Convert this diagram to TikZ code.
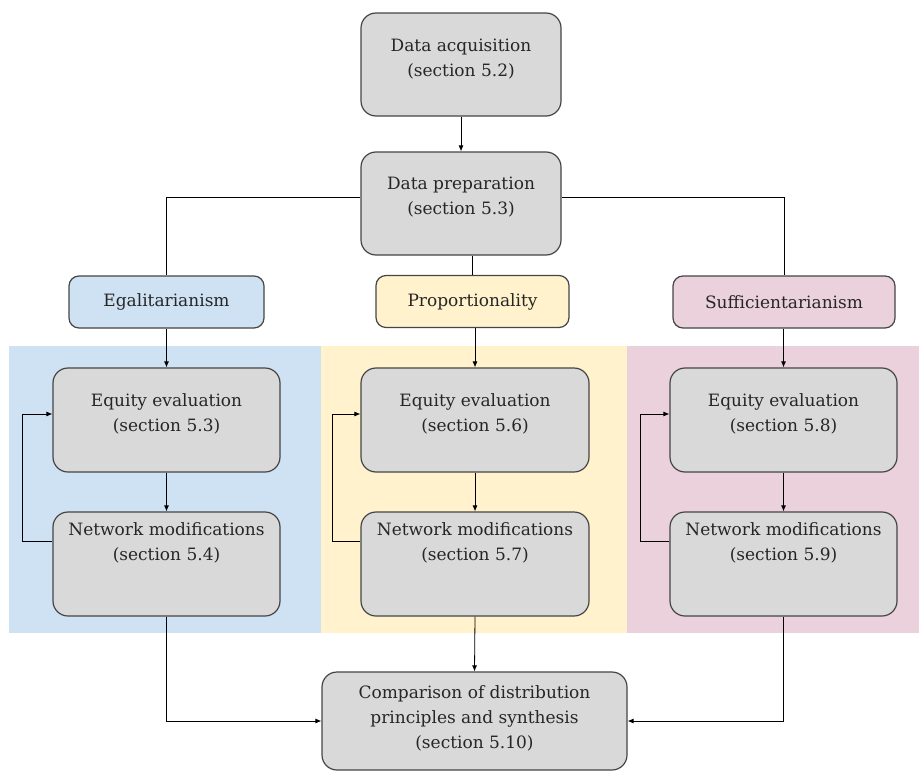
\documentclass[tikz,border=0pt]{standalone}
\usepackage{fontspec}
\setmainfont{DejaVu Serif}
\usetikzlibrary{arrows.meta}
\definecolor{gfill}{HTML}{D9D9D9}
\definecolor{gdraw}{HTML}{454545}
\definecolor{bluebg}{HTML}{CFE2F3}
\definecolor{yelbg}{HTML}{FFF2CC}
\definecolor{pinkbg}{HTML}{EAD1DC}
\tikzset{
  box/.style={draw=gdraw, line width=1.2pt, rounded corners=15pt, fill=gfill,
    align=center, inner sep=0pt, font=\fontsize{17}{25}\selectfont, text=black!85},
  catbox/.style={draw=gdraw, line width=1.2pt, rounded corners=10pt,
    align=center, inner sep=0pt, font=\fontsize{17}{25}\selectfont, text=black!85,
    minimum height=52pt},
  lbl/.style={align=center, font=\fontsize{17}{25}\selectfont, text=black!85},
  conn/.style={draw=black, line width=0.8pt},
  arr/.style={conn, -{Latex[length=6pt,width=5pt]}},
}
\begin{document}
\begin{tikzpicture}[x=1pt, y=-1pt]
\useasboundingbox (0,0) rectangle (919,771);
% backgrounds
\fill[bluebg] (9,346) rectangle (321,633);
\fill[yelbg] (321,346) rectangle (627,633);
\fill[pinkbg] (627,346) rectangle (919,633);
% top boxes
\node[box, minimum width=200pt, minimum height=103pt,
  label={[lbl, yshift=5pt]center:Data acquisition\\(section 5.2)}] (acq) at (461,64.5) {};
\node[box, minimum width=200pt, minimum height=103pt,
  label={[lbl, yshift=6pt]center:Data preparation\\(section 5.3)}] (prep) at (461,203.5) {};
% category boxes
\node[catbox, fill=bluebg, minimum width=195pt] (egal) at (166.5,302) {Egalitarianism};
\node[catbox, fill=yelbg, minimum width=193pt] (prop) at (472.5,301.5) {Proportionality};
\node[catbox, fill=pinkbg, minimum width=222pt] (suff) at (784,302) {Sufficientarianism};
% equity boxes
\node[box, minimum width=227pt, minimum height=104pt,
  label={[lbl, yshift=6pt]center:Equity evaluation\\(section 5.3)}] (e1) at (166.5,420) {};
\node[box, minimum width=228pt, minimum height=104pt,
  label={[lbl, yshift=6pt]center:Equity evaluation\\(section 5.6)}] (e2) at (475,420) {};
\node[box, minimum width=227pt, minimum height=104pt,
  label={[lbl, yshift=6pt]center:Equity evaluation\\(section 5.8)}] (e3) at (783.5,420) {};
% network boxes
\node[box, minimum width=227pt, minimum height=104pt,
  label={[lbl, yshift=21.5pt]center:Network modifications\\(section 5.4)}] (n1) at (166.5,564) {};
\node[box, minimum width=228pt, minimum height=104pt,
  label={[lbl, yshift=21.5pt]center:Network modifications\\(section 5.7)}] (n2) at (475,564) {};
\node[box, minimum width=227pt, minimum height=104pt,
  label={[lbl, yshift=21.5pt]center:Network modifications\\(section 5.9)}] (n3) at (783.5,564) {};
% comparison
\node[box, minimum width=305pt, minimum height=98pt,
  label={[lbl, yshift=2.5pt]center:Comparison of distribution\\principles and synthesis\\(section 5.10)}] (comp) at (474.5,721) {};
% connectors
\draw[arr] (acq.south) -- (prep.north);
\draw[conn] ([yshift=6.5pt]prep.west) -| (egal.north);
\draw[conn] ([yshift=6.5pt]prep.east) -| (suff.north);
\draw[conn] (prep.south -| prop.north) -- (prop.north);
\draw[arr] (egal.south) -- (e1.north);
\draw[arr] (prop.south -| e2.north) -- (e2.north);
\draw[arr] (suff.south -| e3.north) -- (e3.north);
\draw[arr] (e1.south) -- (n1.north);
\draw[arr] (e2.south) -- (n2.north);
\draw[arr] (e3.south) -- (n3.north);
\draw[arr] ([yshift=23pt]n1.west) -- ++(-30,0) |- ([yshift=6pt]e1.west);
\draw[arr] ([yshift=23pt]n2.west) -- ++(-28,0) |- ([yshift=6pt]e2.west);
\draw[arr] ([yshift=23pt]n3.west) -- ++(-29,0) |- ([yshift=6pt]e3.west);
\draw[arr] (n1.south) |- (comp.west);
\draw[arr] (n2.south) -- (comp.north);
\draw[arr] (n3.south) |- (comp.east);
\end{tikzpicture}
\end{document}
